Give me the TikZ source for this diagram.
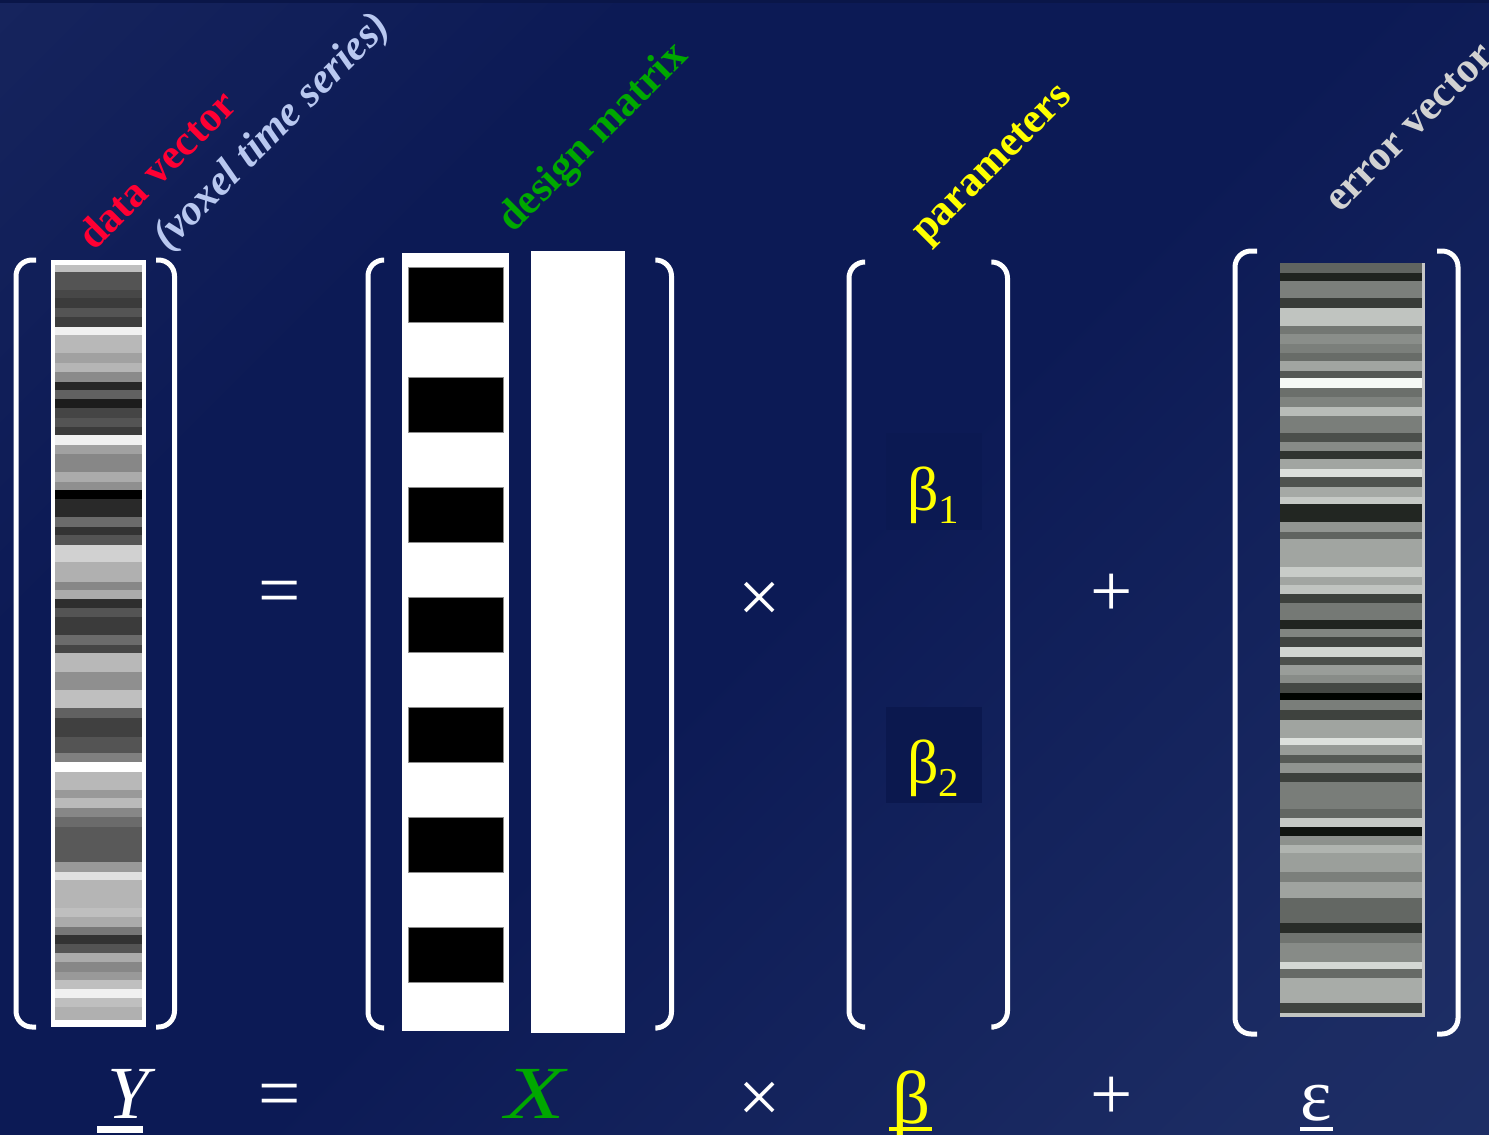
\documentclass[tikz,border=0pt]{standalone}
\usepackage{fontspec}
\setmainfont{Liberation Serif}
\definecolor{bgA}{HTML}{1F2D64}
\definecolor{bgB}{HTML}{0C1A55}
\definecolor{bgC}{HTML}{223369}
\definecolor{dvred}{RGB}{255,0,51}
\definecolor{vxlav}{RGB}{185,200,240}
\definecolor{dmgreen}{RGB}{0,168,0}
\definecolor{pmyellow}{RGB}{255,255,0}
\definecolor{evgray}{RGB}{210,210,210}
\pgfdeclareverticalshading{bgshade}{100bp}{color(0bp)=(bgC); color(22bp)=(bgC!70!bgB); color(48bp)=(bgB); color(68bp)=(bgB); color(88bp)=(bgA!60!bgB); color(100bp)=(bgA)}
\tikzset{
  brk/.style={draw=white, line width=5pt, rounded corners=16pt},
  lbl/.style={font=\fontsize{42.5}{48}\selectfont\bfseries, inner sep=0pt, anchor=base west, rotate=45},
  op/.style={text=white, font=\fontsize{75}{80}\selectfont, inner sep=0pt},
  sym/.style={font=\fontsize{75}{80}\selectfont, inner sep=0pt, anchor=base},
  beta/.style={text=pmyellow, font=\fontsize{62}{70}\selectfont, inner sep=0pt, anchor=base west},
  ul/.style={fill=white}
}
\begin{document}
\begin{tikzpicture}[x=1pt,y=-1pt]
\useasboundingbox (0,0) rectangle (1489,1135);
\shade[shading=bgshade, shading angle=45] (0,0) rectangle (1489,1135);
\fill[bgB!85!black] (0,0) rectangle (1489,3);

% ---- data vector Y ----
\fill[white] (51,260) rectangle (146,1027);
\foreach \a/\b/\g in {265/272/75, 272/290/33, 290/298/28, 298/308/23, 308/317/33, 317/327/24, 327/335/94, 335/353/72, 353/363/63, 363/372/71, 372/382/54, 382/390/15, 390/399/38, 399/408/11, 408/418/27, 418/427/33, 427/435/23, 435/445/94, 445/454/63, 454/472/53, 472/482/67, 482/490/56, 490/499/0, 499/517/16, 517/527/42, 527/535/20, 535/545/33, 545/562/82, 562/582/69, 582/590/53, 590/599/67, 599/608/18, 608/617/33, 617/635/23, 635/645/42, 645/653/27, 653/672/72, 672/690/56, 690/708/75, 708/718/38, 718/737/25, 737/753/33, 753/762/50, 762/772/100, 772/790/72, 790/798/60, 798/808/73, 808/817/53, 817/827/42, 827/862/35, 862/872/60, 872/880/88, 880/908/71, 908/917/75, 917/927/67, 927/935/47, 935/944/20, 944/953/33, 953/962/67, 962/972/53, 972/980/60, 980/989/75, 989/998/94, 998/1007/75, 1007/1020/69}
  {\fill[white!\g!black] (55,\a) rectangle (142,\b);}
\draw[brk] (36,260) -- (16,260) -- (16,1027) -- (36,1027);
\draw[brk] (156,260) -- (174.5,260) -- (174.5,1027) -- (156,1027);

% ---- design matrix X ----
\fill[white] (402,253) rectangle (509,1031);
\foreach \i in {0,...,6}
  {\filldraw[fill=black, draw=black!45, line width=0.8pt] (408,{267+110*\i}) rectangle (503,{322+110*\i});}
\fill[white] (531,251) rectangle (625,1033);
\draw[brk] (383,260) -- (368,260) -- (368,1028) -- (383,1028);
\draw[brk] (657,260) -- (671.5,260) -- (671.5,1028) -- (657,1028);

% ---- parameters ----
\fill[bgB!96!black] (886,433) rectangle (982,530);
\fill[bgB!92!black] (886,707) rectangle (982,803);
\node[beta] (b1) at (907,510) {β\raisebox{-13pt}{\fontsize{41}{45}\selectfont 1}};
\node[beta] (b2) at (907,783) {β\raisebox{-13pt}{\fontsize{41}{45}\selectfont 2}};
\draw[brk] (862,262) -- (849,262) -- (849,1027) -- (862,1027);
\draw[brk] (994,262) -- (1007.5,262) -- (1007.5,1027) -- (994,1027);

% ---- error vector ----
\foreach \a/\b/\g in {263/273/96, 273/281/31, 281/298/123, 298/308/56, 308/326/192, 326/334/115, 334/344/138, 344/353/123, 353/361/104, 361/371/161, 371/378/85, 378/388/245, 388/397/107, 397/407/127, 407/416/184, 416/433/122, 433/442/75, 442/451/135, 451/459/48, 459/469/161, 469/477/220, 477/487/79, 487/497/165, 497/504/197, 504/522/34, 522/532/145, 532/539/95, 539/567/161, 567/577/200, 577/585/161, 585/594/192, 594/603/60, 603/620/117, 620/629/32, 629/637/129, 637/647/64, 647/657/209, 657/665/75, 665/675/153, 675/683/136, 683/693/68, 693/700/0, 700/710/122, 710/720/62, 720/738/160, 738/745/221, 745/755/151, 755/763/85, 763/773/144, 773/782/60, 782/809/121, 809/818/98, 818/827/197, 827/836/16, 836/845/141, 845/853/176, 853/872/155, 872/882/123, 882/898/159, 898/923/99, 923/933/40, 933/943/112, 943/962/135, 962/969/212, 969/978/102, 978/1003/168, 1003/1013/63, 1013/1017/192}
  {\pgfmathtruncatemacro\h{min(255,\g+4)}
   \definecolor{evtmp}{RGB}{\g,\h,\g}
   \fill[evtmp] (1280,\a) rectangle (1422,\b);}
\fill[black!22] (1422,263) rectangle (1424.5,1017);
\draw[brk] (1257,251) -- (1235,251) -- (1235,1034) -- (1257,1034);
\draw[brk] (1437,251) -- (1458,251) -- (1458,1034) -- (1437,1034);

% ---- operators (top row) ----
\node[op] (eq1) at (280,598) {=};
\node[op] (tm1) at (760,602) {×};
\node[op] (pl1) at (1112,595) {+};

% ---- rotated labels ----
\node[lbl, text=dvred] (ldv) at (94,252) {data vector};
\node[lbl, text=vxlav] (lvx) at (168,252) {\itshape (voxel time series)};
\node[lbl, text=dmgreen] (ldm) at (513,234) {design matrix};
\node[lbl, text=pmyellow] (lpm) at (926,245) {parameters};
\node[lbl, text=evgray] (lev) at (1340,214) {error vector};

% ---- bottom row ----
\node[sym, text=white] (Y) at (128,1118) {\itshape Y};
\fill[ul] (97,1126) rectangle (143,1133);
\node[op] (eq2) at (280,1101) {=};
\node[sym, text=dmgreen, xscale=1.3] (X) at (535,1118) {\itshape X};
\node[op] (tm2) at (760,1102) {×};
\node[sym, text=pmyellow] (B) at (912,1123) {β};
\fill[pmyellow] (889,1127) rectangle (932,1131);
\node[op] (pl2) at (1112,1098) {+};
\node[sym, text=white] (E) at (1316,1120) {ε};
\fill[ul] (1300,1127) rectangle (1333,1131);
\end{tikzpicture}
\end{document}
